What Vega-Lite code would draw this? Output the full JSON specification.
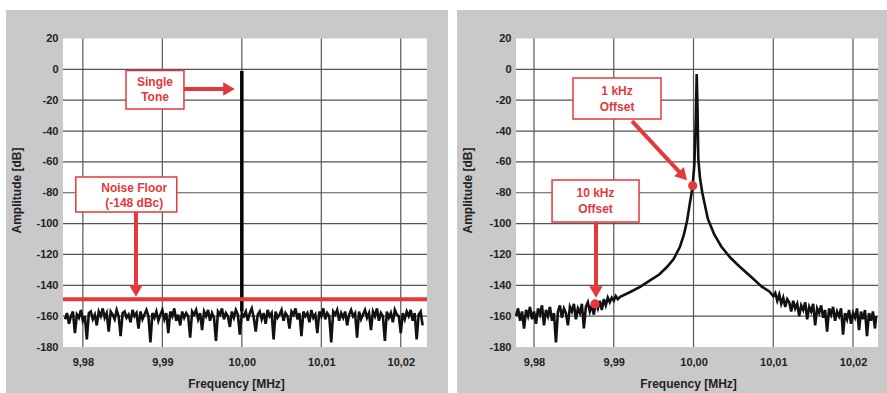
{
  "$schema": "https://vega.github.io/schema/vega-lite/v6.json",
  "background": "white",
  "padding": {"left": 6, "top": 10, "right": 0, "bottom": 0},
  "spacing": 9,
  "config": {
    "view": {"stroke": null},
    "axis": {"grid": false, "domain": false, "ticks": false, "tickSize": 0, "labelFont": "Liberation Sans", "labelFontWeight": "bold", "labelFontSize": 11, "labelColor": "#222222", "titleFont": "Liberation Sans", "titleFontWeight": "bold", "titleFontSize": 12, "titleColor": "#222222", "labelFlush": false, "labelOverlap": false}
  },
  "datasets": {
    "hgrid": [{"v": -160}, {"v": -140}, {"v": -120}, {"v": -100}, {"v": -80}, {"v": -60}, {"v": -40}, {"v": -20}, {"v": 0}],
    "vgrid": [{"v": 9.98}, {"v": 9.99}, {"v": 10.0}, {"v": 10.01}, {"v": 10.02}],
    "leftNoise": [
      {"x": 9.97775, "y": -162}, {"x": 9.978, "y": -158}, {"x": 9.97825, "y": -165}, {"x": 9.9785, "y": -160}, {"x": 9.97875, "y": -157}, {"x": 9.979, "y": -171}, {"x": 9.97925, "y": -159}, {"x": 9.9795, "y": -161}, {"x": 9.97975, "y": -156}, {"x": 9.98, "y": -163},
      {"x": 9.98025, "y": -160}, {"x": 9.9805, "y": -175}, {"x": 9.98075, "y": -158}, {"x": 9.981, "y": -157}, {"x": 9.98125, "y": -162}, {"x": 9.9815, "y": -159}, {"x": 9.98175, "y": -166}, {"x": 9.982, "y": -157}, {"x": 9.98225, "y": -160}, {"x": 9.9825, "y": -155},
      {"x": 9.98275, "y": -161}, {"x": 9.983, "y": -158}, {"x": 9.98325, "y": -170}, {"x": 9.9835, "y": -157}, {"x": 9.98375, "y": -159}, {"x": 9.984, "y": -162}, {"x": 9.98425, "y": -156}, {"x": 9.9845, "y": -160}, {"x": 9.98475, "y": -173}, {"x": 9.985, "y": -158},
      {"x": 9.98525, "y": -157}, {"x": 9.9855, "y": -161}, {"x": 9.98575, "y": -159}, {"x": 9.986, "y": -164}, {"x": 9.98625, "y": -156}, {"x": 9.9865, "y": -160}, {"x": 9.98675, "y": -158}, {"x": 9.987, "y": -168}, {"x": 9.98725, "y": -157}, {"x": 9.9875, "y": -162},
      {"x": 9.98775, "y": -159}, {"x": 9.988, "y": -156}, {"x": 9.98825, "y": -160}, {"x": 9.9885, "y": -177}, {"x": 9.98875, "y": -158}, {"x": 9.989, "y": -161}, {"x": 9.98925, "y": -157}, {"x": 9.9895, "y": -163}, {"x": 9.98975, "y": -159}, {"x": 9.99, "y": -156},
      {"x": 9.99025, "y": -162}, {"x": 9.9905, "y": -158}, {"x": 9.99075, "y": -171}, {"x": 9.991, "y": -157}, {"x": 9.99125, "y": -160}, {"x": 9.9915, "y": -155}, {"x": 9.99175, "y": -163}, {"x": 9.992, "y": -159}, {"x": 9.99225, "y": -166}, {"x": 9.9925, "y": -157},
      {"x": 9.99275, "y": -161}, {"x": 9.993, "y": -158}, {"x": 9.99325, "y": -160}, {"x": 9.9935, "y": -174}, {"x": 9.99375, "y": -157}, {"x": 9.994, "y": -159}, {"x": 9.99425, "y": -156}, {"x": 9.9945, "y": -162}, {"x": 9.99475, "y": -158}, {"x": 9.995, "y": -169},
      {"x": 9.99525, "y": -157}, {"x": 9.9955, "y": -160}, {"x": 9.99575, "y": -156}, {"x": 9.996, "y": -163}, {"x": 9.99625, "y": -158}, {"x": 9.9965, "y": -161}, {"x": 9.99675, "y": -176}, {"x": 9.997, "y": -157}, {"x": 9.99725, "y": -159}, {"x": 9.9975, "y": -155},
      {"x": 9.99775, "y": -162}, {"x": 9.998, "y": -158}, {"x": 9.99825, "y": -160}, {"x": 9.9985, "y": -167}, {"x": 9.99875, "y": -157}, {"x": 9.999, "y": -161}, {"x": 9.99925, "y": -156}, {"x": 9.9995, "y": -159}, {"x": 9.99975, "y": -172}, {"x": 10.0, "y": -158},
      {"x": 10.00025, "y": -160}, {"x": 10.0005, "y": -157}, {"x": 10.00075, "y": -163}, {"x": 10.001, "y": -158}, {"x": 10.00125, "y": -155}, {"x": 10.0015, "y": -161}, {"x": 10.00175, "y": -170}, {"x": 10.002, "y": -159}, {"x": 10.00225, "y": -157}, {"x": 10.0025, "y": -162},
      {"x": 10.00275, "y": -158}, {"x": 10.003, "y": -165}, {"x": 10.00325, "y": -156}, {"x": 10.0035, "y": -160}, {"x": 10.00375, "y": -158}, {"x": 10.004, "y": -175}, {"x": 10.00425, "y": -157}, {"x": 10.0045, "y": -161}, {"x": 10.00475, "y": -159}, {"x": 10.005, "y": -156},
      {"x": 10.00525, "y": -163}, {"x": 10.0055, "y": -158}, {"x": 10.00575, "y": -160}, {"x": 10.006, "y": -168}, {"x": 10.00625, "y": -157}, {"x": 10.0065, "y": -159}, {"x": 10.00675, "y": -155}, {"x": 10.007, "y": -162}, {"x": 10.00725, "y": -158}, {"x": 10.0075, "y": -173},
      {"x": 10.00775, "y": -157}, {"x": 10.008, "y": -160}, {"x": 10.00825, "y": -158}, {"x": 10.0085, "y": -164}, {"x": 10.00875, "y": -156}, {"x": 10.009, "y": -161}, {"x": 10.00925, "y": -159}, {"x": 10.0095, "y": -171}, {"x": 10.00975, "y": -157}, {"x": 10.01, "y": -160},
      {"x": 10.01025, "y": -155}, {"x": 10.0105, "y": -162}, {"x": 10.01075, "y": -158}, {"x": 10.011, "y": -160}, {"x": 10.01125, "y": -177}, {"x": 10.0115, "y": -157}, {"x": 10.01175, "y": -159}, {"x": 10.012, "y": -156}, {"x": 10.01225, "y": -163}, {"x": 10.0125, "y": -158},
      {"x": 10.01275, "y": -161}, {"x": 10.013, "y": -157}, {"x": 10.01325, "y": -166}, {"x": 10.0135, "y": -159}, {"x": 10.01375, "y": -156}, {"x": 10.014, "y": -160}, {"x": 10.01425, "y": -158}, {"x": 10.0145, "y": -174}, {"x": 10.01475, "y": -157}, {"x": 10.015, "y": -162},
      {"x": 10.01525, "y": -159}, {"x": 10.0155, "y": -156}, {"x": 10.01575, "y": -161}, {"x": 10.016, "y": -158}, {"x": 10.01625, "y": -169}, {"x": 10.0165, "y": -157}, {"x": 10.01675, "y": -160}, {"x": 10.017, "y": -155}, {"x": 10.01725, "y": -163}, {"x": 10.0175, "y": -158},
      {"x": 10.01775, "y": -160}, {"x": 10.018, "y": -176}, {"x": 10.01825, "y": -157}, {"x": 10.0185, "y": -161}, {"x": 10.01875, "y": -158}, {"x": 10.019, "y": -164}, {"x": 10.01925, "y": -156}, {"x": 10.0195, "y": -159}, {"x": 10.01975, "y": -160}, {"x": 10.02, "y": -171},
      {"x": 10.02025, "y": -158}, {"x": 10.0205, "y": -162}, {"x": 10.02075, "y": -157}, {"x": 10.021, "y": -160}, {"x": 10.02125, "y": -156}, {"x": 10.0215, "y": -163}, {"x": 10.02175, "y": -158}, {"x": 10.022, "y": -175}, {"x": 10.02225, "y": -159}, {"x": 10.0225, "y": -157}, {"x": 10.02275, "y": -166}
    ],
    "rightTrace": [
      {"x": 9.97775, "y": -160}, {"x": 9.978, "y": -155}, {"x": 9.97825, "y": -163}, {"x": 9.9785, "y": -157}, {"x": 9.97875, "y": -168}, {"x": 9.979, "y": -156}, {"x": 9.97925, "y": -160}, {"x": 9.9795, "y": -154}, {"x": 9.97975, "y": -162}, {"x": 9.98, "y": -157},
      {"x": 9.98025, "y": -165}, {"x": 9.9805, "y": -155}, {"x": 9.98075, "y": -159}, {"x": 9.981, "y": -153}, {"x": 9.98125, "y": -166}, {"x": 9.9815, "y": -156}, {"x": 9.98175, "y": -160}, {"x": 9.982, "y": -154}, {"x": 9.98225, "y": -163}, {"x": 9.9825, "y": -158},
      {"x": 9.98275, "y": -177}, {"x": 9.983, "y": -157}, {"x": 9.98325, "y": -153}, {"x": 9.9835, "y": -161}, {"x": 9.98375, "y": -155}, {"x": 9.984, "y": -158}, {"x": 9.98425, "y": -166}, {"x": 9.9845, "y": -154}, {"x": 9.98475, "y": -157}, {"x": 9.985, "y": -152},
      {"x": 9.98525, "y": -162}, {"x": 9.9855, "y": -155}, {"x": 9.98575, "y": -158}, {"x": 9.986, "y": -152}, {"x": 9.98625, "y": -168}, {"x": 9.9865, "y": -154}, {"x": 9.98675, "y": -151}, {"x": 9.987, "y": -157}, {"x": 9.98725, "y": -153}, {"x": 9.9875, "y": -159},
      {"x": 9.98775, "y": -151}, {"x": 9.988, "y": -155}, {"x": 9.98825, "y": -150}, {"x": 9.9885, "y": -156}, {"x": 9.98875, "y": -149}, {"x": 9.989, "y": -153}, {"x": 9.98925, "y": -148}, {"x": 9.9895, "y": -151}, {"x": 9.98975, "y": -148}, {"x": 9.99, "y": -150},
      {"x": 9.99025, "y": -147}, {"x": 9.9905, "y": -149}, {"x": 9.9908, "y": -147.5}, {"x": 9.992, "y": -144.5}, {"x": 9.9933, "y": -141}, {"x": 9.9945, "y": -137}, {"x": 9.9957, "y": -133}, {"x": 9.9967, "y": -128}, {"x": 9.9975, "y": -123}, {"x": 9.9983, "y": -115},
      {"x": 9.9988, "y": -107}, {"x": 9.9992, "y": -98}, {"x": 9.9995, "y": -88}, {"x": 9.9997, "y": -82}, {"x": 9.9999, "y": -75}, {"x": 10.0001, "y": -62}, {"x": 10.0002, "y": -48}, {"x": 10.0003, "y": -28}, {"x": 10.0004, "y": -3}, {"x": 10.0005, "y": -25},
      {"x": 10.0006, "y": -58}, {"x": 10.0008, "y": -70}, {"x": 10.0011, "y": -80}, {"x": 10.0018, "y": -97}, {"x": 10.0026, "y": -107}, {"x": 10.0035, "y": -115}, {"x": 10.0046, "y": -122}, {"x": 10.0058, "y": -128}, {"x": 10.0071, "y": -134}, {"x": 10.0086, "y": -141},
      {"x": 10.0095, "y": -144}, {"x": 10.01, "y": -147}, {"x": 10.01025, "y": -145}, {"x": 10.0105, "y": -150}, {"x": 10.01075, "y": -146}, {"x": 10.011, "y": -152}, {"x": 10.01125, "y": -148}, {"x": 10.0115, "y": -154}, {"x": 10.01175, "y": -149}, {"x": 10.012, "y": -151},
      {"x": 10.01225, "y": -157}, {"x": 10.0125, "y": -150}, {"x": 10.01275, "y": -155}, {"x": 10.013, "y": -152}, {"x": 10.01325, "y": -160}, {"x": 10.0135, "y": -153}, {"x": 10.01375, "y": -156}, {"x": 10.014, "y": -151}, {"x": 10.01425, "y": -162}, {"x": 10.0145, "y": -154},
      {"x": 10.01475, "y": -157}, {"x": 10.015, "y": -152}, {"x": 10.01525, "y": -166}, {"x": 10.0155, "y": -155}, {"x": 10.01575, "y": -158}, {"x": 10.016, "y": -153}, {"x": 10.01625, "y": -161}, {"x": 10.0165, "y": -156}, {"x": 10.01675, "y": -170}, {"x": 10.017, "y": -155},
      {"x": 10.01725, "y": -159}, {"x": 10.0175, "y": -154}, {"x": 10.01775, "y": -163}, {"x": 10.018, "y": -157}, {"x": 10.01825, "y": -160}, {"x": 10.0185, "y": -155}, {"x": 10.01875, "y": -172}, {"x": 10.019, "y": -158}, {"x": 10.01925, "y": -162}, {"x": 10.0195, "y": -156},
      {"x": 10.01975, "y": -165}, {"x": 10.02, "y": -158}, {"x": 10.02025, "y": -161}, {"x": 10.0205, "y": -155}, {"x": 10.02075, "y": -169}, {"x": 10.021, "y": -157}, {"x": 10.02125, "y": -162}, {"x": 10.0215, "y": -156}, {"x": 10.02175, "y": -173}, {"x": 10.022, "y": -158},
      {"x": 10.02225, "y": -163}, {"x": 10.0225, "y": -157}, {"x": 10.02275, "y": -168}, {"x": 10.0229, "y": -160}
    ],
    "leftBoxes": [
      {"x1": 9.98543, "x2": 9.99272, "y1": -0.8, "y2": -25.7, "xc": 9.98908, "yc": -12.7, "label": "Single\nTone"},
      {"x1": 9.97911, "x2": 9.99181, "y1": -69.8, "y2": -92.5, "xc": 9.98646, "yc": -81.2, "label": "Noise Floor\n(-148 dBc)"}
    ],
    "leftArrows": [
      {"x": 9.99272, "y": -12.7, "x2": 9.99839, "y2": -12.7, "deg": 0},
      {"x": 9.98668, "y": -92.5, "x2": 9.98668, "y2": -143.7, "deg": 90}
    ],
    "rightBoxes": [
      {"x1": 9.98489, "x2": 9.99592, "y1": -5.6, "y2": -32.2, "xc": 9.99041, "yc": -18.9, "label": "1 kHz\nOffset"},
      {"x1": 9.98226, "x2": 9.99317, "y1": -71.7, "y2": -99, "xc": 9.98771, "yc": -85.3, "label": "10 kHz\nOffset"}
    ],
    "rightArrows": [
      {"x": 9.99229, "y": -33.5, "x2": 9.99868, "y2": -69.1, "deg": 47},
      {"x": 9.98777, "y": -99, "x2": 9.98777, "y2": -144.3, "deg": 90}
    ],
    "rightDots": [
      {"x": 9.9999, "y": -75.4, "label": "1 kHz"},
      {"x": 9.98765, "y": -152.1, "label": "10 kHz"}
    ]
  },
  "hconcat": [
    {
      "width": 442,
      "height": 383,
      "view": {"fill": "#c9c9c9", "stroke": null},
      "layer": [
        {
          "data": {"values": [{}]},
          "mark": {"type": "rect", "fill": "white"},
          "encoding": {
            "x": {"datum": 9.9775, "type": "quantitative", "scale": {"domain": [9.970328, 10.025942], "nice": false, "zero": false},
                  "axis": {"title": "Frequency [MHz]", "orient": "bottom", "offset": -46, "values": [9.98, 9.99, 10.0, 10.01, 10.02], "tickCount": 20, "labelExpr": "replace(format(datum.value, '.2f'), '.', ',')", "labelPadding": 9, "labelOverlap": false, "titleX": 230, "titleY": 36, "titleBaseline": "middle"}},
            "x2": {"datum": 10.0233},
            "y": {"datum": -180, "type": "quantitative", "scale": {"domain": [-209.82, 38.48], "nice": false, "zero": false},
                  "axis": {"title": "Amplitude [dB]", "orient": "left", "offset": -57, "values": [-180, -160, -140, -120, -100, -80, -60, -40, -20, 0, 20], "tickCount": 30, "labelExpr": "'' + datum.value", "labelPadding": 5, "labelOverlap": false, "labelSeparation": 0, "labelBound": false, "titleX": -47, "titleY": 180, "titleBaseline": "middle"}},
            "y2": {"datum": 20}
          }
        },
        {
          "data": {"name": "hgrid"},
          "mark": {"type": "rule", "color": "#555555", "strokeWidth": 1.2},
          "encoding": {"y": {"field": "v", "type": "quantitative"}, "x": {"datum": 9.9775}, "x2": {"datum": 10.0233}}
        },
        {
          "data": {"name": "vgrid"},
          "mark": {"type": "rule", "color": "#555555", "strokeWidth": 1.2},
          "encoding": {"x": {"field": "v", "type": "quantitative"}, "y": {"datum": -180}, "y2": {"datum": 20}}
        },
        {
          "data": {"name": "leftNoise"},
          "mark": {"type": "line", "color": "#111111", "strokeWidth": 2.6},
          "encoding": {"x": {"field": "x", "type": "quantitative"}, "y": {"field": "y", "type": "quantitative"}}
        },
        {
          "data": {"values": [{}]},
          "mark": {"type": "rule", "color": "#000000", "strokeWidth": 3.5},
          "encoding": {"x": {"datum": 10.0}, "y": {"datum": -157}, "y2": {"datum": -1}}
        },
        {
          "data": {"values": [{}]},
          "mark": {"type": "rule", "color": "#e4393c", "strokeWidth": 4},
          "encoding": {"y": {"datum": -149}, "x": {"datum": 9.9775}, "x2": {"datum": 10.0233}}
        },
        {
          "data": {"name": "leftArrows"},
          "mark": {"type": "rule", "color": "#e4393c", "strokeWidth": 4},
          "encoding": {"x": {"field": "x", "type": "quantitative"}, "y": {"field": "y", "type": "quantitative"}, "x2": {"field": "x2"}, "y2": {"field": "y2"}}
        },
        {
          "data": {"name": "leftArrows"},
          "mark": {"type": "point", "shape": "triangle-right", "filled": true, "color": "#e4393c", "opacity": 1, "size": 180, "strokeWidth": 0},
          "encoding": {"x": {"field": "x2", "type": "quantitative"}, "y": {"field": "y2", "type": "quantitative"}, "angle": {"field": "deg", "type": "quantitative", "scale": null}}
        },
        {
          "data": {"name": "leftBoxes"},
          "mark": {"type": "rect", "fill": "white", "stroke": "#e4393c", "strokeWidth": 1.5},
          "encoding": {"x": {"field": "x1", "type": "quantitative"}, "x2": {"field": "x2"}, "y": {"field": "y1", "type": "quantitative"}, "y2": {"field": "y2"}}
        },
        {
          "data": {"name": "leftBoxes"},
          "mark": {"type": "text", "lineBreak": "\n", "lineHeight": 15, "dy": -7, "font": "Liberation Sans", "fontWeight": "bold", "fontSize": 12, "color": "#e4393c", "align": "center", "baseline": "middle"},
          "encoding": {"x": {"field": "xc", "type": "quantitative"}, "y": {"field": "yc", "type": "quantitative"}, "text": {"field": "label"}}
        }
      ]
    },
    {
      "width": 430,
      "height": 383,
      "view": {"fill": "#c9c9c9", "stroke": null},
      "layer": [
        {
          "data": {"values": [{}]},
          "mark": {"type": "rect", "fill": "white"},
          "encoding": {
            "x": {"datum": 9.97774, "type": "quantitative", "scale": {"domain": [9.970342, 10.02426], "nice": false, "zero": false},
                  "axis": {"title": "Frequency [MHz]", "orient": "bottom", "offset": -46, "values": [9.98, 9.99, 10.0, 10.01, 10.02], "tickCount": 20, "labelExpr": "replace(format(datum.value, '.2f'), '.', ',')", "labelPadding": 9, "labelOverlap": false, "titleX": 231, "titleY": 36, "titleBaseline": "middle"}},
            "x2": {"datum": 10.02313},
            "y": {"datum": -180, "type": "quantitative", "scale": {"domain": [-209.82, 38.48], "nice": false, "zero": false},
                  "axis": {"title": "Amplitude [dB]", "orient": "left", "offset": -59, "values": [-180, -160, -140, -120, -100, -80, -60, -40, -20, 0, 20], "tickCount": 30, "labelExpr": "'' + datum.value", "labelPadding": 5, "labelOverlap": false, "labelSeparation": 0, "labelBound": false, "titleX": -49, "titleY": 180, "titleBaseline": "middle"}},
            "y2": {"datum": 20}
          }
        },
        {
          "data": {"name": "hgrid"},
          "mark": {"type": "rule", "color": "#555555", "strokeWidth": 1.2},
          "encoding": {"y": {"field": "v", "type": "quantitative"}, "x": {"datum": 9.97774}, "x2": {"datum": 10.02313}}
        },
        {
          "data": {"name": "vgrid"},
          "mark": {"type": "rule", "color": "#555555", "strokeWidth": 1.2},
          "encoding": {"x": {"field": "v", "type": "quantitative"}, "y": {"datum": -180}, "y2": {"datum": 20}}
        },
        {
          "data": {"name": "rightTrace"},
          "mark": {"type": "line", "color": "#111111", "strokeWidth": 2.6},
          "encoding": {"x": {"field": "x", "type": "quantitative"}, "y": {"field": "y", "type": "quantitative"}}
        },
        {
          "data": {"name": "rightArrows"},
          "mark": {"type": "rule", "color": "#e4393c", "strokeWidth": 4},
          "encoding": {"x": {"field": "x", "type": "quantitative"}, "y": {"field": "y", "type": "quantitative"}, "x2": {"field": "x2"}, "y2": {"field": "y2"}}
        },
        {
          "data": {"name": "rightArrows"},
          "mark": {"type": "point", "shape": "triangle-right", "filled": true, "color": "#e4393c", "opacity": 1, "size": 180, "strokeWidth": 0},
          "encoding": {"x": {"field": "x2", "type": "quantitative"}, "y": {"field": "y2", "type": "quantitative"}, "angle": {"field": "deg", "type": "quantitative", "scale": null}}
        },
        {
          "data": {"name": "rightDots"},
          "mark": {"type": "point", "shape": "circle", "filled": true, "color": "#e4393c", "opacity": 1, "size": 85, "strokeWidth": 0},
          "encoding": {"x": {"field": "x", "type": "quantitative"}, "y": {"field": "y", "type": "quantitative"}}
        },
        {
          "data": {"name": "rightBoxes"},
          "mark": {"type": "rect", "fill": "white", "stroke": "#e4393c", "strokeWidth": 1.5},
          "encoding": {"x": {"field": "x1", "type": "quantitative"}, "x2": {"field": "x2"}, "y": {"field": "y1", "type": "quantitative"}, "y2": {"field": "y2"}}
        },
        {
          "data": {"name": "rightBoxes"},
          "mark": {"type": "text", "lineBreak": "\n", "lineHeight": 16, "dy": -8, "font": "Liberation Sans", "fontWeight": "bold", "fontSize": 12, "color": "#e4393c", "align": "center", "baseline": "middle"},
          "encoding": {"x": {"field": "xc", "type": "quantitative"}, "y": {"field": "yc", "type": "quantitative"}, "text": {"field": "label"}}
        }
      ]
    }
  ]
}
